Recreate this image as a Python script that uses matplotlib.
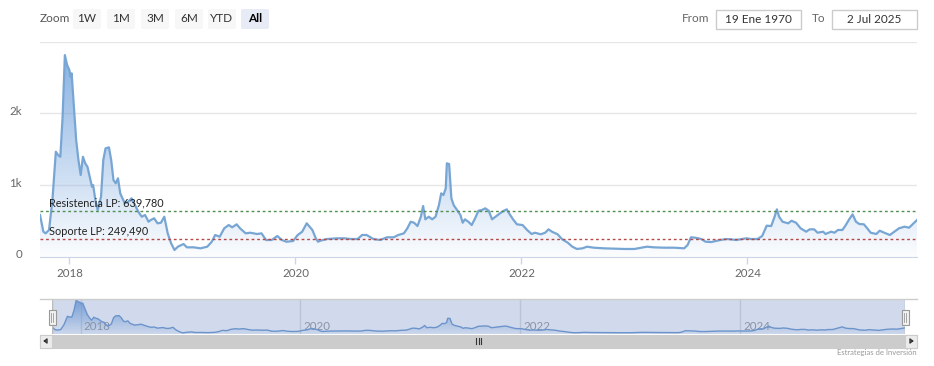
#
#   Highcharts-style stock chart: long-term price with support / resistance
#

import numpy as np
import matplotlib.pyplot as plt
import matplotlib.transforms as mtransforms
from matplotlib.patches import Rectangle, FancyBboxPatch

plt.rcParams['font.family'] = ['Lato', 'DejaVu Sans']

# decimal years and prices
dates = [2017.74, 2017.77, 2017.79, 2017.82, 2017.85, 2017.88, 2017.90, 2017.92,
         2017.94, 2017.96, 2017.98, 2018.00, 2018.01, 2018.02, 2018.04, 2018.06,
         2018.08, 2018.10, 2018.12, 2018.14, 2018.16, 2018.18, 2018.20, 2018.21,
         2018.23, 2018.25, 2018.28, 2018.30, 2018.32, 2018.35, 2018.37, 2018.39,
         2018.41, 2018.43, 2018.45, 2018.47, 2018.49, 2018.52, 2018.55, 2018.58,
         2018.61, 2018.64, 2018.67, 2018.70, 2018.72, 2018.75, 2018.78, 2018.81,
         2018.84, 2018.87, 2018.90, 2018.93, 2018.96, 2019.01, 2019.04, 2019.10,
         2019.16, 2019.22, 2019.26, 2019.29, 2019.33, 2019.37, 2019.41, 2019.44,
         2019.48, 2019.51, 2019.56, 2019.60, 2019.66, 2019.70, 2019.74, 2019.79,
         2019.84, 2019.88, 2019.92, 2019.98, 2020.02, 2020.06, 2020.10, 2020.15,
         2020.18, 2020.20, 2020.22, 2020.28, 2020.37, 2020.43, 2020.49, 2020.55,
         2020.59, 2020.63, 2020.69, 2020.75, 2020.81, 2020.87, 2020.91, 2020.96,
         2020.99, 2021.02, 2021.05, 2021.08, 2021.11, 2021.13, 2021.15, 2021.18,
         2021.21, 2021.24, 2021.27, 2021.29, 2021.31, 2021.33, 2021.34, 2021.36,
         2021.38, 2021.40, 2021.43, 2021.46, 2021.48, 2021.50, 2021.53, 2021.56,
         2021.59, 2021.62, 2021.65, 2021.68, 2021.71, 2021.74, 2021.79, 2021.81,
         2021.84, 2021.87, 2021.90, 2021.93, 2021.96, 2022.01, 2022.05, 2022.09,
         2022.12, 2022.17, 2022.21, 2022.24, 2022.27, 2022.32, 2022.36, 2022.41,
         2022.45, 2022.49, 2022.54, 2022.58, 2022.64, 2022.73, 2022.82, 2022.91,
         2023.00, 2023.06, 2023.11, 2023.17, 2023.26, 2023.35, 2023.44, 2023.47,
         2023.50, 2023.54, 2023.59, 2023.63, 2023.68, 2023.72, 2023.76, 2023.81,
         2023.85, 2023.90, 2023.94, 2023.99, 2024.03, 2024.09, 2024.13, 2024.17,
         2024.21, 2024.24, 2024.26, 2024.28, 2024.31, 2024.36, 2024.39, 2024.43,
         2024.47, 2024.52, 2024.55, 2024.59, 2024.62, 2024.67, 2024.69, 2024.74,
         2024.77, 2024.80, 2024.84, 2024.87, 2024.90, 2024.93, 2024.96, 2024.99,
         2025.03, 2025.06, 2025.09, 2025.14, 2025.17, 2025.21, 2025.26, 2025.30,
         2025.34, 2025.39, 2025.43, 2025.47, 2025.50]
values = [580, 346, 323, 370, 788, 1462, 1416, 1392,
          1950, 2810, 2671, 2601, 2508, 2555, 2089, 1625,
          1346, 1137, 1392, 1300, 1252, 1113, 973, 997,
          788, 649, 834, 1346, 1509, 1523, 1346, 1067,
          1021, 1091, 881, 812, 742, 764, 812, 718,
          625, 555, 579, 485, 509, 533, 463, 471,
          555, 323, 184, 91, 137, 174, 128, 128,
          114, 137, 206, 300, 276, 393, 439, 407,
          449, 393, 323, 332, 314, 323, 230, 230,
          286, 230, 206, 216, 300, 346, 463, 370,
          254, 206, 220, 244, 254, 254, 244, 244,
          300, 300, 244, 230, 268, 268, 300, 323,
          393, 485, 471, 425, 555, 704, 519, 555,
          519, 555, 718, 881, 858, 951, 1300, 1290,
          812, 718, 649, 579, 471, 519, 485, 439,
          533, 639, 649, 672, 639, 519, 579, 602,
          635, 658, 579, 509, 449, 439, 370, 314,
          332, 310, 332, 379, 346, 310, 240, 193,
          137, 105, 114, 137, 123, 114, 109, 105,
          105, 123, 137, 128, 123, 123, 114, 160,
          268, 262, 244, 206, 202, 216, 230, 244,
          240, 230, 240, 254, 244, 244, 286, 430,
          425, 555, 658, 555, 485, 463, 499, 471,
          393, 346, 379, 379, 332, 346, 314, 346,
          332, 370, 370, 439, 519, 588, 485, 453,
          449, 393, 332, 314, 360, 332, 300, 346,
          393, 416, 402, 463, 509]

resistance = 639.780
support = 249.490
year_ticks = [2018, 2020, 2022, 2024]
y_ticks = [0, 1000, 2000, 3000]
y_tick_labels = ['0', '1k', '2k', '']
range_buttons = ['1W', '1M', '3M', '6M', 'YTD', 'All']
date_from = '19 Ene 1970'
date_to = '2 Jul 2025'
credits = 'Estrategias de Inversión'

LINE = '#78a6d4'
W, H = 934, 366
fig = plt.figure(figsize=(W / 100, H / 100), dpi=100)


def px_axes(x0, y0, x1, y1):
    return fig.add_axes([x0 / W, 1 - y1 / H, (x1 - x0) / W, (y1 - y0) / H])


def es_num(v):
    # Spanish decimal comma
    return f'{v:.3f}'.replace('.', ',')


def gradient_area(ax, x, y, ymax, a_top, a_bot):
    poly = ax.fill_between(x, y, 0, color='none', lw=0)
    grad = np.zeros((256, 1, 4))
    grad[..., 0], grad[..., 1], grad[..., 2] = 0.42, 0.62, 0.86
    grad[:, 0, 3] = np.linspace(a_top, a_bot, 256)
    im = ax.imshow(grad, extent=[x[0], x[-1], 0, ymax], aspect='auto',
                   origin='upper', zorder=1, interpolation='bilinear')
    im.set_clip_path(poly.get_paths()[0], transform=ax.transData)


# ---- UI layer (buttons, inputs, scrollbar) in pixel coords
ui = fig.add_axes([0, 0, 1, 1], zorder=-1)
ui.set_xlim(0, W)
ui.set_ylim(H, 0)
ui.axis('off')

ui.text(40, 19, 'Zoom', fontsize=8.5, color='#555555', va='center')
btn_x = [73, 107, 141, 175, 208, 241]
for bx, lab in zip(btn_x, range_buttons):
    sel = lab == 'All'
    ui.add_patch(FancyBboxPatch((bx, 9), 28, 20, boxstyle='round,pad=0,rounding_size=2',
                                fc='#e6ebf5' if sel else '#f7f7f7', ec='none'))
    ui.text(bx + 14, 19, lab, fontsize=8.5, ha='center', va='center',
            color='#000000' if sel else '#333333',
            fontweight='bold' if sel else 'normal')

ui.text(682, 19, 'From', fontsize=8.5, color='#666666', va='center')
ui.add_patch(Rectangle((716, 10), 85, 19, fc='white', ec='#cccccc', lw=1))
ui.text(758.5, 19.5, date_from, fontsize=8.5, color='#333333', ha='center', va='center')
ui.text(812, 19, 'To', fontsize=8.5, color='#666666', va='center')
ui.add_patch(Rectangle((832, 10), 85, 19, fc='white', ec='#cccccc', lw=1))
ui.text(874.5, 19.5, date_to, fontsize=8.5, color='#333333', ha='center', va='center')

# scrollbar
ui.add_patch(Rectangle((40, 334.5), 877, 13, fc='#cccccc', ec='#cccccc', lw=0.8))
ui.add_patch(Rectangle((40, 334.5), 12, 13, fc='#ebebeb', ec='#cccccc', lw=0.8))
ui.add_patch(Rectangle((905, 334.5), 12, 13, fc='#ebebeb', ec='#cccccc', lw=0.8))
ui.plot([44.5, 47, 47, 44.5], [341, 339, 343, 341], color='#333333', lw=1)
ui.plot([912.5, 910, 910, 912.5], [341, 339, 343, 341], color='#333333', lw=1)
for gx in [476, 478.5, 481]:
    ui.plot([gx, gx], [338, 344], color='#333333', lw=0.8)
ui.plot([40, 917], [299, 299], color='#cccccc', lw=1)
ui.text(917, 353, credits, fontsize=5.5, color='#999999', ha='right', va='center')

# ---- main chart
ax = px_axes(40, 41.5, 917, 256.5)
gradient_area(ax, dates, values, 3000, 0.85, 0.03)
ax.plot(dates, values, color=LINE, lw=1.6, zorder=3)
ax.axhline(resistance, color='#4f8f4f', lw=1, ls=(0, (2, 2)), zorder=4)
ax.axhline(support, color='#b84848', lw=1, ls=(0, (2, 2)), zorder=4)
lbl_tr = mtransforms.blended_transform_factory(ax.transAxes, ax.transData)
ax.text(0.0105, resistance + 55, f'Resistencia LP: {es_num(resistance)}',
        transform=lbl_tr, fontsize=7.8, color='#222222', zorder=5)
ax.text(0.0105, support + 55, f'Soporte LP: {es_num(support)}',
        transform=lbl_tr, fontsize=7.8, color='#222222', zorder=5)

ax.set_xlim(dates[0], dates[-1])
ax.set_ylim(0, 3000)
ax.set_yticks(y_ticks)
ax.set_yticklabels(y_tick_labels)
ax.set_xticks(year_ticks)
ax.set_xticklabels([str(y) for y in year_ticks])
ax.grid(axis='y', color='#e6e6e6', lw=1)
ax.set_axisbelow(True)
for s in ['top', 'left', 'right']:
    ax.spines[s].set_visible(False)
ax.spines['bottom'].set_color('#ccd6eb')
ax.tick_params(axis='y', length=0, pad=13, labelsize=8.3, labelcolor='#666666')
ax.tick_params(axis='x', length=5, width=1, color='#ccd6eb', pad=3.5,
               labelsize=8.3, labelcolor='#666666')
for lab in ax.get_yticklabels():
    lab.set_transform(lab.get_transform() + mtransforms.ScaledTranslation(0, 2 / 72, fig.dpi_scale_trans))

# ---- navigator
nav = px_axes(52, 299, 905, 334)
nav.set_xlim(dates[0], dates[-1])
nav.set_ylim(0, 2900)
for yr in year_ticks:
    nav.axvline(yr, color='#e0e0e0', lw=1, zorder=0)
    nav.text(yr, 0.22, str(yr), transform=mtransforms.offset_copy(
        mtransforms.blended_transform_factory(nav.transData, nav.transAxes),
        fig=fig, x=3, units='dots'), fontsize=8.3, color='#999999', ha='left',
        va='center', zorder=2)
gradient_area(nav, dates, values, 2900, 0.9, 0.05)
nav.plot(dates, values, color='#6f9bd0', lw=1, zorder=3)
nav.axvspan(dates[0], dates[-1], color='#6685c2', alpha=0.3, lw=0, zorder=4)
nav.set_xticks([])
nav.set_yticks([])
for s in nav.spines.values():
    s.set_visible(False)
nav.axvline(dates[0], color='#bbbbbb', lw=1, zorder=5)
nav.axvline(dates[-1], color='#bbbbbb', lw=1, zorder=5)

# navigator handles
for hx in [52, 905]:
    ui.add_patch(Rectangle((hx - 3.5, 310), 7, 15, fc='#f2f2f2', ec='#999999',
                           lw=0.8, zorder=10, clip_on=False))
    ui.plot([hx - 1, hx - 1], [313, 322], color='#999999', lw=0.6, zorder=11)
    ui.plot([hx + 1, hx + 1], [313, 322], color='#999999', lw=0.6, zorder=11)
ui.set_zorder(6)
ui.patch.set_visible(False)

fig.savefig('out.png', dpi=100)
